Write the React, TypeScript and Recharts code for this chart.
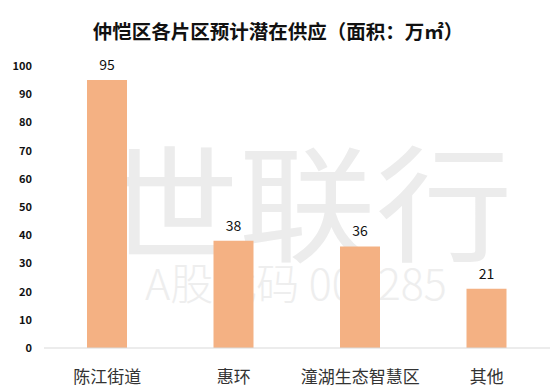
import React from "react";
import { BarChart, Bar, XAxis, YAxis, LabelList } from "recharts";

const categories = ["陈江街道", "惠环", "潼湖生态智慧区", "其他"];
const supplyValues = [95, 38, 36, 21];
const yTicks = [0, 10, 20, 30, 40, 50, 60, 70, 80, 90, 100];
const title = "仲恺区各片区预计潜在供应（面积：万㎡）";

const data = categories.map((name, i) => ({ name, value: supplyValues[i] }));

const FONT = "'Noto Sans CJK SC', 'Noto Sans', sans-serif";

const YTick = (props: any) => {
  const { y, payload } = props;
  return (
    <text x={32} y={y} dy={4} textAnchor="end" fontSize={11} fontWeight="bold" fill="#111" fontFamily={FONT}>
      {payload.value}
    </text>
  );
};

const XTick = (props: any) => {
  const { x, y, payload } = props;
  return (
    <text x={x} y={y + 21} dy={6} textAnchor="middle" fontSize={17} fill="#333" fontFamily={FONT}>
      {payload.value}
    </text>
  );
};

export default function App() {
  return (
    <div style={{ position: "absolute", left: 0, top: 0, width: 560, height: 390, background: "#fff", overflow: "hidden" }}>
      <div
        style={{
          position: "absolute",
          left: 0,
          top: 31 - 14,
          width: 556,
          textAlign: "center",
          fontFamily: FONT,
          fontWeight: "bold",
          fontSize: 19.5,
          lineHeight: "28px",
          color: "#111",
        }}
      >
        {title}
      </div>
      <div
        style={{
          position: "absolute",
          left: 102,
          top: 134,
          fontFamily: FONT,
          fontSize: 126,
          lineHeight: "126px",
          color: "#ececec",
          whiteSpace: "nowrap",
          transform: "scaleX(1.086)",
          transformOrigin: "left top",
        }}
      >
        世联行
      </div>
      <div
        style={{
          position: "absolute",
          left: 145,
          top: 282 - 22,
          fontFamily: FONT,
          fontSize: 43,
          fontWeight: 300,
          lineHeight: "43px",
          color: "#eeeeee",
          whiteSpace: "nowrap",
        }}
      >
        A股代码 002285
      </div>
      <div style={{ position: "absolute", left: 0, top: 0 }}>
        <BarChart width={560} height={390} data={data} margin={{ top: 66, right: 10, bottom: 0, left: 0 }}>
          <XAxis
            dataKey="name"
            axisLine={{ stroke: "#d9d9d9", strokeWidth: 1 }}
            tickLine={false}
            tick={<XTick />}
            interval={0}
            height={42}
          />
          <YAxis
            domain={[0, 100]}
            ticks={yTicks}
            axisLine={false}
            tickLine={false}
            tick={<YTick />}
            width={44}
            interval={0}
          />
          <Bar dataKey="value" fill="#F4B183" barSize={40} isAnimationActive={false}>
            <LabelList dataKey="value" position="top" offset={10} fontSize={14} fill="#111" fontFamily={FONT} />
          </Bar>
        </BarChart>
      </div>
    </div>
  );
}
